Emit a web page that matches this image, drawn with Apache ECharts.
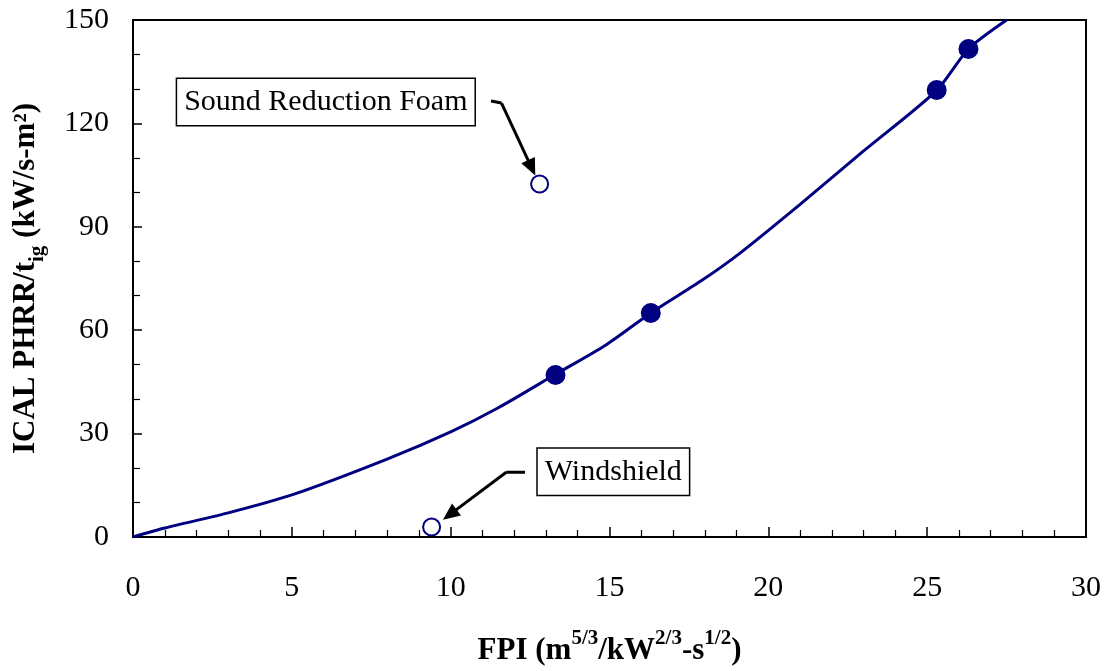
<!DOCTYPE html>
<html>
<head>
<meta charset="utf-8">
<script src="https://cdn.jsdelivr.net/npm/echarts@6/dist/echarts.min.js"></script>
<style>
  html, body { margin: 0; padding: 0; background: #fff; }
  #chart { width: 1111px; height: 671px; }
</style>
</head>
<body>
<div id="chart"></div>
<script>
// Fitted trend curve (FPI vs. ICAL PHRR/t_ig)
const curveX = [0, 1, 3, 5, 8, 10, 11.5, 13.3, 14.9, 16.3, 17.85, 19.1, 21, 23, 25.3, 26.3, 27.5];
const curveY = [0, 2.6, 7.0, 12.2, 22.6, 30.5, 37.5, 47.2, 55.8, 65, 74.1, 82.3, 96.5, 112, 129.6, 141.6, 150];

// Materials on the trend (filled markers)
const fitX = [13.3, 16.3, 25.3, 26.3];
const fitY = [47, 65, 129.7, 141.6];

// Outliers (open markers)
const outlierNames = ['Sound Reduction Foam', 'Windshield'];
const outlierX = [12.8, 9.4];
const outlierY = [102.4, 2.9];

// Axis ticks
const xTicks = [0, 5, 10, 15, 20, 25, 30];
const yTicks = [0, 30, 60, 90, 120, 150];

// Callout boxes and their arrows, in data units
const calloutText = ['Sound Reduction Foam', 'Windshield'];
const calloutAt = [[6.07, 126.2], [15.12, 18.9]];
const arrowLead = [[[11.27, 126.5], [11.6, 125.9]], [[12.34, 18.8], [11.75, 18.8]]];
const arrowTip = [[12.55, 107.1], [9.97, 6.5]];

const NAVY = '#000080';
const SERIF = '"Liberation Serif", "Times New Roman", serif';

const chart = echarts.init(document.getElementById('chart'), null, { renderer: 'canvas' });

const arrowSeries = arrowLead.map((lead, i) => ({
  type: 'line',
  data: lead,
  symbol: 'none',
  silent: true,
  z: 4,
  lineStyle: { color: '#000', width: 3 },
  markLine: {
    silent: true,
    symbol: ['none', 'triangle'],
    symbolSize: [15, 17],
    label: { show: false },
    lineStyle: { color: '#000', width: 3, type: 'solid', opacity: 1 },
    itemStyle: { color: '#000' },
    data: [[{ coord: lead[1] }, { coord: arrowTip[i] }]]
  }
}));

chart.setOption({
  animation: false,
  backgroundColor: '#fff',
  grid: {
    left: 133, right: 25, top: 20, bottom: 134,
    show: true, borderColor: '#000', borderWidth: 2, backgroundColor: 'transparent'
  },
  xAxis: {
    type: 'value',
    min: xTicks[0], max: xTicks[xTicks.length - 1], interval: 5,
    name: '{b|FPI (m}{sup|5/3}{b|/kW}{sup|2/3}{b|-s}{sup|1/2}{b|)}',
    nameLocation: 'middle',
    nameGap: 91,
    nameTextStyle: {
      rich: {
        b: { fontFamily: SERIF, fontWeight: 'bold', fontSize: 31, color: '#000', lineHeight: 38, verticalAlign: 'bottom' },
        sup: { fontFamily: SERIF, fontWeight: 'bold', fontSize: 21, color: '#000', lineHeight: 22, verticalAlign: 'top' }
      }
    },
    axisLine: { show: true, onZero: false, lineStyle: { color: '#000', width: 2 } },
    axisTick: { show: true, inside: true, length: 10, lineStyle: { color: '#000', width: 1.5 } },
    minorTick: { show: true, splitNumber: 5, length: 7, lineStyle: { color: '#000', width: 1.2 } },
    splitLine: { show: false },
    axisLabel: { fontFamily: SERIF, fontSize: 30, color: '#000', margin: 36 }
  },
  yAxis: {
    type: 'value',
    min: yTicks[0], max: yTicks[yTicks.length - 1], interval: 30,
    name: '{b|ICAL PHRR/t}{sub|ig}{b| (kW/s-m²)}',
    nameLocation: 'middle',
    nameGap: 85,
    nameRotate: 90,
    nameTextStyle: {
      rich: {
        b: { fontFamily: SERIF, fontWeight: 'bold', fontSize: 31, color: '#000', lineHeight: 38, verticalAlign: 'top' },
        sub: { fontFamily: SERIF, fontWeight: 'bold', fontSize: 21, color: '#000', lineHeight: 22, verticalAlign: 'bottom' }
      }
    },
    axisLine: { show: true, onZero: false, lineStyle: { color: '#000', width: 2 } },
    axisTick: { show: true, inside: true, length: 9, lineStyle: { color: '#000', width: 1.5 } },
    minorTick: { show: true, splitNumber: 3, length: 7, lineStyle: { color: '#000', width: 1.2 } },
    splitLine: { show: false },
    axisLabel: { fontFamily: SERIF, fontSize: 30, color: '#000', margin: 24 }
  },
  series: [
    {
      type: 'line',
      data: curveX.map((x, i) => [x, curveY[i]]),
      smooth: 0.25,
      symbol: 'none',
      clip: true,
      z: 2,
      lineStyle: { color: NAVY, width: 3 }
    },
    {
      type: 'scatter',
      data: fitX.map((x, i) => [x, fitY[i]]),
      symbol: 'circle',
      symbolSize: 20,
      z: 5,
      itemStyle: { color: NAVY, opacity: 1 }
    },
    {
      type: 'scatter',
      data: outlierX.map((x, i) => ({ name: outlierNames[i], value: [x, outlierY[i]] })),
      symbol: 'circle',
      symbolSize: 17,
      z: 5,
      itemStyle: { color: '#fff', borderColor: NAVY, borderWidth: 2, opacity: 1 }
    },
    {
      type: 'scatter',
      data: calloutAt.map((p, i) => ({ name: calloutText[i], value: p })),
      symbolSize: 0,
      silent: true,
      z: 6,
      itemStyle: { opacity: 1 },
      label: {
        show: true,
        position: 'inside',
        formatter: '{b}',
        fontFamily: SERIF,
        fontSize: 30,
        color: '#000',
        opacity: 1,
        lineHeight: 34,
        backgroundColor: '#fff',
        borderColor: '#000',
        borderWidth: 1.5,
        padding: [6, 7, 6, 7]
      }
    },
    ...arrowSeries
  ]
});
</script>
</body>
</html>
